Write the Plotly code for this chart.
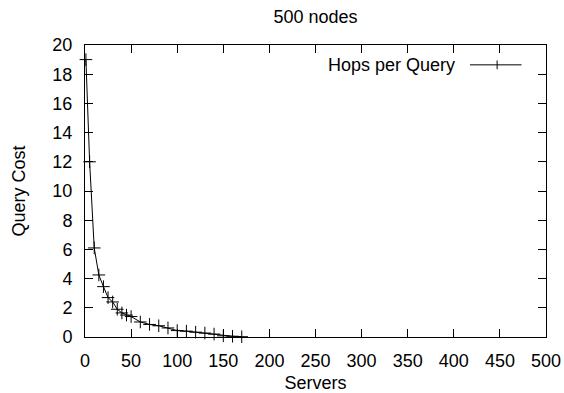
import plotly.graph_objects as go

servers = [1, 5, 10, 15, 20, 25, 30, 35, 40, 45, 50, 60, 70, 80, 90, 100, 110, 120, 130, 140, 150, 160, 170]
hops = [19.0, 12.0, 6.1, 4.25, 3.45, 2.7, 2.4, 1.9, 1.65, 1.5, 1.4, 1.03, 0.86, 0.77, 0.62, 0.44, 0.4, 0.33, 0.27, 0.2, 0.08, 0.05, 0.02]

x_ticks = list(range(0, 501, 50))
y_ticks = list(range(0, 21, 2))

FAM = "Liberation Sans, Arial, sans-serif"
font = dict(family=FAM, size=18, color="black")

fig = go.Figure()
fig.add_trace(go.Scatter(
    x=servers, y=hops, mode="lines+markers", name="Hops per Query",
    line=dict(color="black", width=1),
    marker=dict(symbol="cross-thin", size=9, line=dict(color="black", width=1), color="black"),
    showlegend=False, cliponaxis=False,
))

axis_common = dict(
    showline=True, linecolor="black", linewidth=1, mirror="allticks",
    ticks="inside", ticklen=8, tickcolor="black", tickwidth=1,
    showgrid=False, zeroline=False, tickfont=font, automargin=False,
)
fig.update_xaxes(range=[0, 500], tickvals=x_ticks, title=dict(text="Servers", font=font, standoff=10),
                 ticklabelstandoff=7, **axis_common)
fig.update_yaxes(range=[0, 20], tickvals=y_ticks, title=dict(text="Query Cost", font=font, standoff=22),
                 ticklabelstandoff=8, **axis_common)

# legend (gnuplot style: text left of sample)
fig.add_annotation(text="Hops per Query", xref="paper", yref="paper", x=0.807, y=0.932,
                   xanchor="right", yanchor="middle", showarrow=False, font=font)
fig.add_shape(type="line", xref="paper", yref="paper", x0=0.835, x1=0.947, y0=0.932, y1=0.932,
              line=dict(color="black", width=1))
fig.add_shape(type="line", xref="paper", yref="paper", x0=0.894, x1=0.894, y0=0.917, y1=0.947,
              line=dict(color="black", width=1))

fig.update_layout(
    width=564, height=393,
    margin=dict(l=85, r=18, t=45, b=56),
    paper_bgcolor="white", plot_bgcolor="white",
    title=dict(text="500 nodes", x=(85 + 230.5) / 564, xanchor="center", y=1 - 17 / 393, yanchor="middle",
               font=dict(family=FAM, size=18, color="black")),
    font=font,
)

fig.write_html("out.html")
